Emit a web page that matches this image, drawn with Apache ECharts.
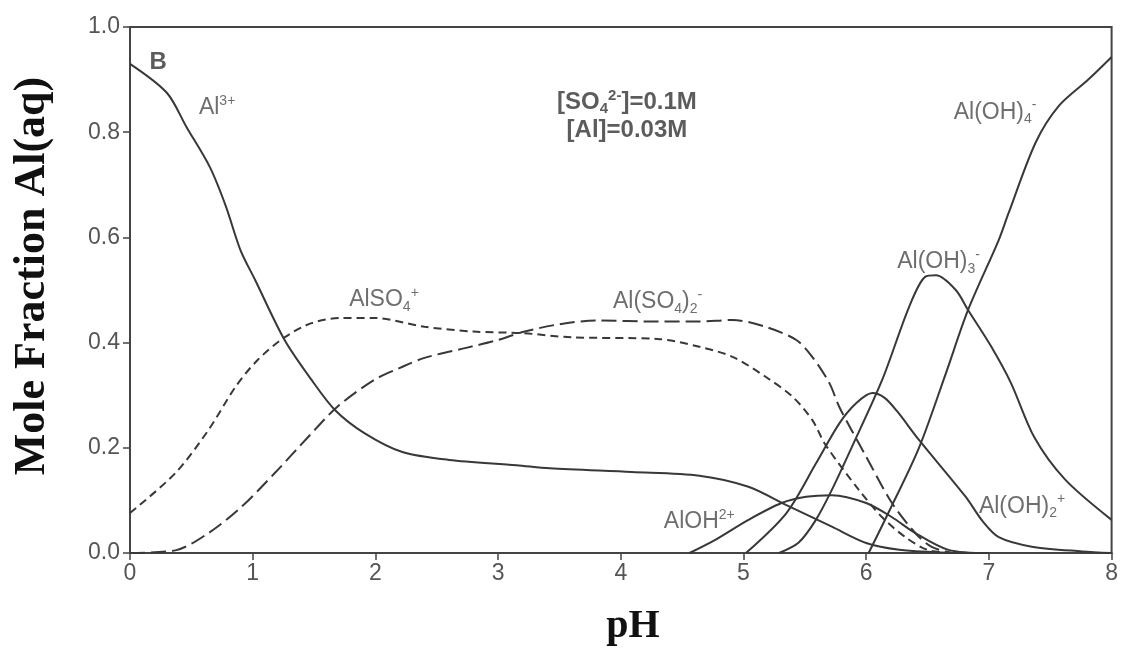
<!DOCTYPE html>
<html>
<head>
<meta charset="utf-8">
<script src="https://cdn.jsdelivr.net/npm/echarts@6/dist/echarts.min.js"></script>
<style>html,body{margin:0;padding:0;background:#fff;}#c{width:1121px;height:652px;}</style>
</head>
<body>
<div id="c"></div>
<script>
// pH tick values and mole fraction ticks
var xTicks = [0, 1, 2, 3, 4, 5, 6, 7, 8];
var yTicks = [0, 0.2, 0.4, 0.6, 0.8, 1.0];

// Species curves: [pH, mole fraction]
var al3 = [[0,0.93],[0.3,0.875],[0.46,0.81],[0.65,0.734],[0.78,0.66],[0.9,0.576],[1.02,0.519],[1.26,0.405],[1.48,0.329],[1.67,0.272],[1.91,0.228],[2.22,0.192],[2.6,0.177],[3.15,0.167],[3.42,0.161],[4.09,0.154],[4.64,0.147],[5.04,0.126],[5.35,0.091],[5.72,0.05],[6.0,0.019],[6.27,0.006],[6.6,0.001],[7.0,0]];
var alSO4 = [[0,0.076],[0.37,0.152],[0.64,0.234],[0.86,0.316],[1.04,0.367],[1.26,0.41],[1.48,0.437],[1.72,0.447],[1.99,0.447],[2.4,0.43],[2.8,0.421],[3.2,0.418],[3.6,0.41],[4.3,0.407],[4.64,0.392],[4.91,0.373],[5.18,0.335],[5.4,0.297],[5.56,0.253],[5.67,0.205],[5.94,0.12],[6.13,0.068],[6.32,0.03],[6.5,0.006],[6.7,0]];
var alSO42 = [[0,0],[0.37,0.005],[0.64,0.038],[0.91,0.088],[1.18,0.152],[1.45,0.22],[1.69,0.278],[1.99,0.329],[2.2,0.352],[2.4,0.371],[2.74,0.39],[3.0,0.405],[3.2,0.42],[3.5,0.435],[3.8,0.442],[4.3,0.44],[4.64,0.44],[4.91,0.443],[5.18,0.43],[5.43,0.405],[5.56,0.373],[5.7,0.323],[5.78,0.278],[5.88,0.234],[6.0,0.183],[6.21,0.095],[6.4,0.038],[6.53,0.012],[6.7,0]];
var alOH = [[4.56,0],[4.77,0.025],[5.04,0.063],[5.31,0.095],[5.51,0.107],[5.72,0.11],[6.0,0.095],[6.21,0.068],[6.4,0.038],[6.67,0.006],[7.0,0]];
var alOH2 = [[5.02,0],[5.35,0.076],[5.59,0.17],[5.78,0.246],[5.92,0.285],[6.05,0.304],[6.15,0.295],[6.25,0.27],[6.43,0.215],[6.81,0.107],[6.95,0.06],[7.08,0.03],[7.35,0.012],[7.76,0.003],[8.0,0]];
var alOH3 = [[5.29,0],[5.45,0.02],[5.59,0.063],[5.72,0.12],[5.88,0.2],[6.13,0.329],[6.35,0.468],[6.48,0.525],[6.57,0.528],[6.73,0.5],[6.83,0.462],[7.02,0.392],[7.18,0.323],[7.37,0.22],[7.62,0.14],[8.0,0.063]];
var alOH4 = [[6.02,0],[6.18,0.076],[6.43,0.2],[6.65,0.342],[6.83,0.462],[7.08,0.595],[7.16,0.646],[7.38,0.78],[7.57,0.85],[7.81,0.9],[8.0,0.943]];

// Annotation labels (data coordinates + rich text)
var labelX = [0.23, 0.71, 4.05, 4.05, 7.05, 6.59, 2.07, 4.3, 4.64, 7.27];
var labelY = [0.933, 0.846, 0.857, 0.804, 0.838, 0.553, 0.481, 0.477, 0.059, 0.089];
var labelText = [
  '{bb|B}',
  '{n|Al}{sup|3+}',
  '{bb|[SO}{bsub|4}{bsup|2-}{bb|]=0.1M}',
  '{bb|[Al]=0.03M}',
  '{n|Al(OH)}{sub|4}{sup|-}',
  '{n|Al(OH)}{sub|3}{sup|-}',
  '{n|AlSO}{sub|4}{sup|+}',
  '{n|Al(SO}{sub|4}{n|)}{sub|2}{sup|-}',
  '{n|AlOH}{sup|2+}',
  '{n|Al(OH)}{sub|2}{sup|+}'
];

var labelData = labelX.map(function (x, i) { return [x, labelY[i], i]; });
var lineColor = '#383838';
function curve(name, data, type, dash) {
  return {
    name: name, type: 'line', data: data, showSymbol: false, symbol: 'none',
    smooth: 0.3,
    lineStyle: { color: lineColor, width: 2, type: dash ? dash : type },
    z: 3
  };
}
var chart = echarts.init(document.getElementById('c'), null, { renderer: 'canvas' });
chart.setOption({
  animation: false,
  backgroundColor: '#fff',
  grid: { left: 130, top: 27, right: 8, bottom: 99, show: true, borderColor: '#444', borderWidth: 2 },
  xAxis: {
    type: 'value', min: 0, max: 8, interval: 1,
    axisLine: { show: true, lineStyle: { color: '#444', width: 2 } },
    axisTick: { show: true, length: 7, lineStyle: { color: '#444', width: 1.5 } },
    axisLabel: { color: '#555', fontSize: 23, fontFamily: 'Liberation Sans', margin: 9 },
    splitLine: { show: false }
  },
  yAxis: {
    type: 'value', min: 0, max: 1, interval: 0.2,
    axisLine: { show: true, lineStyle: { color: '#444', width: 2 } },
    axisTick: { show: true, length: 7, lineStyle: { color: '#444', width: 1.5 } },
    axisLabel: { color: '#555', fontSize: 23, fontFamily: 'Liberation Sans', margin: 10,
      formatter: function (v) { return v.toFixed(1); } },
    splitLine: { show: false }
  },
  graphic: [
    { type: 'text', x: 33, y: 276, rotation: Math.PI / 2,
      style: { text: 'Mole Fraction Al(aq)', font: 'bold 44px "Liberation Serif"', fill: '#111',
        textAlign: 'center', textVerticalAlign: 'middle', align: 'center', verticalAlign: 'middle' } },
    { type: 'text', x: 633, y: 627,
      style: { text: 'pH', font: 'bold 40px "Liberation Serif"', fill: '#111',
        textAlign: 'center', textVerticalAlign: 'middle', align: 'center', verticalAlign: 'middle' } }
  ],
  series: [
    curve('Al3+', al3, 'solid'),
    curve('AlSO4+', alSO4, 'dashed', [8, 5]),
    curve('Al(SO4)2-', alSO42, 'dashed', [15, 6]),
    curve('AlOH2+', alOH, 'solid'),
    curve('Al(OH)2+', alOH2, 'solid'),
    curve('Al(OH)3', alOH3, 'solid'),
    curve('Al(OH)4-', alOH4, 'solid'),
    {
      name: 'labels', type: 'scatter', data: labelData, symbolSize: 1,
      itemStyle: { color: 'rgba(0,0,0,0)' }, z: 5, silent: true,
      label: {
        show: true, position: 'inside',
        formatter: function (p) { return labelText[p.data[2]]; },
        rich: {
          n: { fontSize: 23, fontFamily: 'Liberation Sans', color: '#4a4a4a', lineHeight: 28, verticalAlign: 'middle' },
          sup: { fontSize: 14, fontFamily: 'Liberation Sans', color: '#4a4a4a', lineHeight: 14, verticalAlign: 'top' },
          sub: { fontSize: 14, fontFamily: 'Liberation Sans', color: '#4a4a4a', lineHeight: 14, verticalAlign: 'bottom' },
          bb: { fontSize: 24, fontWeight: 'bold', fontFamily: 'Liberation Sans', color: '#333', lineHeight: 28, verticalAlign: 'middle' },
          bsup: { fontSize: 15, fontWeight: 'bold', fontFamily: 'Liberation Sans', color: '#333', lineHeight: 14, verticalAlign: 'top' },
          bsub: { fontSize: 15, fontWeight: 'bold', fontFamily: 'Liberation Sans', color: '#333', lineHeight: 14, verticalAlign: 'bottom' }
        }
      }
    }
  ]
});
</script>
</body>
</html>
